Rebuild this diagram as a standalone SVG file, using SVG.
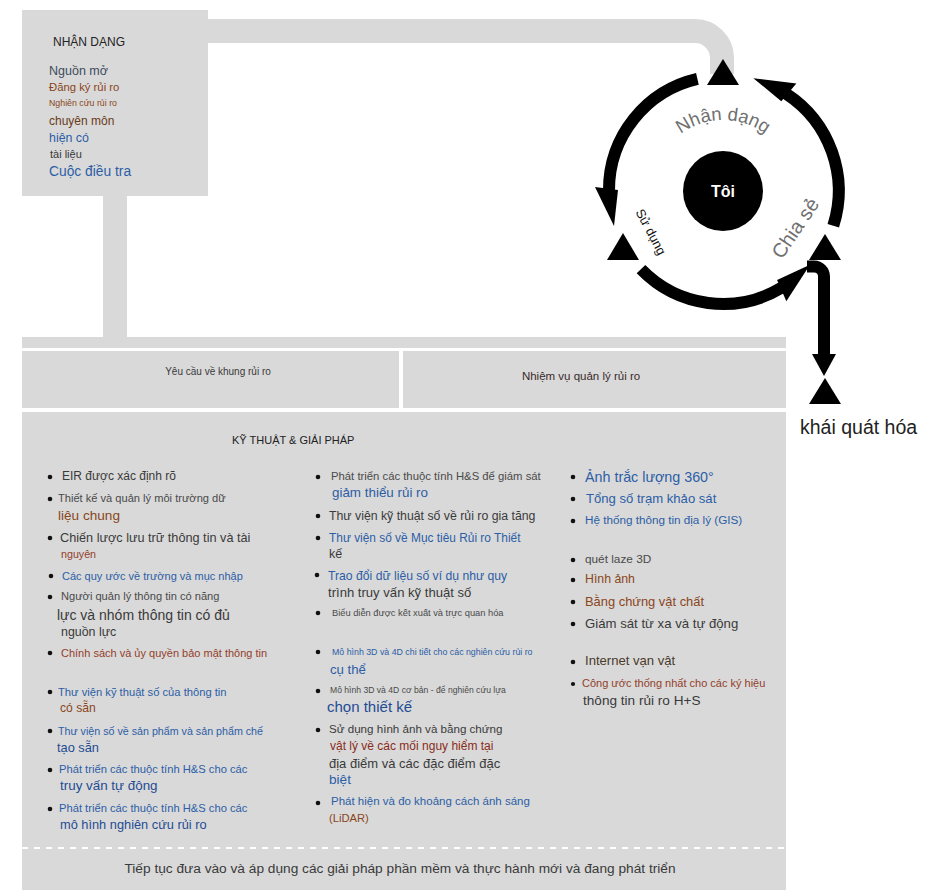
<svg xmlns="http://www.w3.org/2000/svg" width="942" height="894" viewBox="0 0 942 894">
<style>
text{font-family:"Liberation Sans",Arial,sans-serif;}
.box{fill:#d9d9d9;}
.dk{fill:#3a3a3a;}
.br{fill:#8a4620;}
.rb{fill:#93402a;}
.bl{fill:#2c5ea6;}
.bd{fill:#1f4c94;}
.sl{fill:#3c4c5e;}
.bul{fill:#111;}
.arc{fill:none;stroke:#000;stroke-width:12;stroke-linecap:butt;}
.tri{fill:#000;}
.lbl{fill:#707070;}
</style>
<defs>
<marker id="ah" markerUnits="userSpaceOnUse" orient="auto" markerWidth="60" markerHeight="60" refX="0" refY="0" overflow="visible">
<path d="M0,-9 L36,-5 L-3,14 Z" fill="#000"/>
</marker>
<marker id="ahd" markerUnits="userSpaceOnUse" orient="auto" markerWidth="40" markerHeight="40" refX="0" refY="0" overflow="visible">
<path d="M0,-12 L22,0 L0,12 Z" fill="#000"/>
</marker>
<path id="arcTop" d="M656.3,166.7 A71,71 0 0 1 789.7,166.7"/>
</defs>

<g id="connectors">
<path d="M206,31 H695 A27,27 0 0 1 722,58 V74" fill="none" stroke="#d9d9d9" stroke-width="24"/>
<rect x="103" y="194" width="24" height="145" fill="#d9d9d9"/>
<path class="arc" d="M697.4,78.9 A114,114 0 0 0 609,190" marker-end="url(#ah)"/>
<path class="arc" d="M641,269.2 A114,114 0 0 0 781.7,287.7" marker-end="url(#ah)"/>
<path class="arc" d="M833.3,225.8 A116,116 0 0 0 786.2,93.7" marker-end="url(#ah)"/>
<path class="arc" d="M807,266.5 H814 A10,10 0 0 1 824,276.5 V354" marker-end="url(#ahd)"/>
</g>

<g id="node-identify-box">
<rect class="box" x="22" y="10" width="186" height="186"/>
<text x="53" y="46" font-size="12" fill="#222">NHẬN DẠNG</text>
<text x="49" y="75" font-size="12.5" class="sl">Nguồn mở</text>
<text x="49" y="91" font-size="11.3" class="br">Đăng ký rủi ro</text>
<text x="49" y="106" font-size="8.8" class="br">Nghiên cứu rủi ro</text>
<text x="49" y="125" font-size="12" fill="#6a3a1a">chuyên môn</text>
<text x="49" y="142" font-size="12.4" class="bl">hiện có</text>
<text x="50" y="158" font-size="11" class="dk">tài liệu</text>
<text x="49" y="176" font-size="13.8" class="bl">Cuộc điều tra</text>
</g>

<g id="node-strip">
<rect class="box" x="22" y="337" width="764" height="11"/>
</g>

<g id="node-framework-req">
<rect class="box" x="22" y="351" width="377" height="57"/>
<text x="218" y="375" font-size="10" text-anchor="middle" class="dk">Yêu cầu về khung rủi ro</text>
</g>

<g id="node-risk-tasks">
<rect class="box" x="403" y="351" width="383" height="57"/>
<text x="581" y="380" font-size="11.5" text-anchor="middle" fill="#3a2a2a">Nhiệm vụ quản lý rủi ro</text>
</g>

<g id="node-techniques">
<rect class="box" x="22" y="412" width="764" height="478"/>
<text x="232" y="444" font-size="11" fill="#222">KỸ THUẬT &amp; GIẢI PHÁP</text>
<line x1="22" y1="848" x2="786" y2="848" stroke="#fff" stroke-width="2" stroke-dasharray="6,6"/>
<text x="400" y="873" font-size="13.7" text-anchor="middle" class="dk">Tiếp tục đưa vào và áp dụng các giải pháp phần mềm và thực hành mới và đang phát triển</text>

<g id="col1">
<circle class="bul" cx="50" cy="477" r="2.3"/>
<text x="62" y="480" font-size="12" class="dk">EIR được xác định rõ</text>
<circle class="bul" cx="50" cy="499" r="2.3"/>
<text x="58" y="502" font-size="11.1" fill="#4a4a4a">Thiết kế và quản lý môi trường dữ</text>
<text x="58" y="520" font-size="13.6" class="br">liệu chung</text>
<circle class="bul" cx="50" cy="538" r="2.3"/>
<text x="60" y="542" font-size="12.7" class="dk">Chiến lược lưu trữ thông tin và tài</text>
<text x="61" y="558" font-size="10.7" class="rb">nguyên</text>
<circle class="bul" cx="51" cy="576" r="2.3"/>
<text x="62" y="580" font-size="11" class="bl">Các quy ước về trường và mục nhập</text>
<circle class="bul" cx="50" cy="597" r="2.3"/>
<text x="61" y="600" font-size="11.1" fill="#4a4a4a">Người quản lý thông tin có năng</text>
<text x="57" y="620" font-size="14" class="dk">lực và nhóm thông tin có đủ</text>
<text x="61" y="636" font-size="12.4" class="dk">nguồn lực</text>
<circle class="bul" cx="50" cy="653" r="2.3"/>
<text x="61" y="657" font-size="11" class="rb">Chính sách và ủy quyền bảo mật thông tin</text>
<circle class="bul" cx="50" cy="692" r="2.3"/>
<text x="58" y="696" font-size="11.2" class="bl">Thư viện kỹ thuật số của thông tin</text>
<text x="60" y="712" font-size="12.1" class="br">có sẵn</text>
<circle class="bul" cx="50" cy="731" r="2.3"/>
<text x="58" y="735" font-size="10.7" class="bl">Thư viện số về sản phẩm và sản phẩm chế</text>
<text x="57" y="752" font-size="12.8" class="bd">tạo sẵn</text>
<circle class="bul" cx="50" cy="770" r="2.3"/>
<text x="59" y="773" font-size="11.2" class="bl">Phát triển các thuộc tính H&amp;S cho các</text>
<text x="60" y="790" font-size="13.4" class="bd">truy vấn tự động</text>
<circle class="bul" cx="50" cy="809" r="2.3"/>
<text x="59" y="812" font-size="11.2" class="bl">Phát triển các thuộc tính H&amp;S cho các</text>
<text x="60" y="829" font-size="12.8" class="bd">mô hình nghiên cứu rủi ro</text>
</g>

<g id="col2">
<circle class="bul" cx="318" cy="477" r="2.3"/>
<text x="331" y="480" font-size="11.3" fill="#4a4a4a">Phát triển các thuộc tính H&amp;S để giám sát</text>
<text x="332" y="497" font-size="13.4" class="bl">giảm thiểu rủi ro</text>
<circle class="bul" cx="318" cy="516" r="2.3"/>
<text x="329" y="520" font-size="12.3" class="dk">Thư viện kỹ thuật số về rủi ro gia tăng</text>
<circle class="bul" cx="318" cy="538" r="2.3"/>
<text x="329" y="542" font-size="11.9" class="bl">Thư viện số về Mục tiêu Rủi ro Thiết</text>
<text x="329" y="558" font-size="12.5" class="dk">kế</text>
<circle class="bul" cx="317" cy="575" r="2.3"/>
<text x="328" y="580" font-size="12.2" class="bl">Trao đổi dữ liệu số ví dụ như quy</text>
<text x="328" y="597" font-size="13.1" class="dk">trình truy vấn kỹ thuật số</text>
<circle class="bul" cx="318" cy="613" r="2.3"/>
<text x="332" y="616" font-size="9.3" fill="#4a4a4a">Biểu diễn được kết xuất và trực quan hóa</text>
<circle class="bul" cx="318" cy="652" r="2.3"/>
<text x="332" y="655" font-size="8.8" class="bl">Mô hình 3D và 4D chi tiết cho các nghiên cứu rủi ro</text>
<text x="330" y="674" font-size="13.2" class="bl">cụ thể</text>
<circle class="bul" cx="318" cy="691" r="2.3"/>
<text x="330" y="693" font-size="8.6" fill="#4a4a4a">Mô hình 3D và 4D cơ bản - để nghiên cứu lựa</text>
<text x="327" y="712" font-size="15" class="bd">chọn thiết kế</text>
<circle class="bul" cx="318" cy="730" r="2.3"/>
<text x="329" y="733" font-size="11.6" class="dk">Sử dụng hình ảnh và bằng chứng</text>
<text x="330" y="750" font-size="12" fill="#8a2c1a">vật lý về các mối nguy hiểm tại</text>
<text x="329" y="768" font-size="13" class="dk">địa điểm và các đặc điểm đặc</text>
<text x="329" y="784" font-size="13.6" class="bl">biệt</text>
<circle class="bul" cx="318" cy="803" r="2.3"/>
<text x="331" y="805" font-size="11.5" class="bl">Phát hiện và đo khoảng cách ánh sáng</text>
<text x="329" y="822" font-size="11.2" class="br">(LiDAR)</text>
</g>

<g id="col3">
<circle class="bul" cx="573" cy="477" r="2.3"/>
<text x="585" y="482" font-size="14.3" class="bl">Ảnh trắc lượng 360°</text>
<circle class="bul" cx="573" cy="499" r="2.3"/>
<text x="586" y="503" font-size="13.1" class="bl">Tổng số trạm khảo sát</text>
<circle class="bul" cx="573" cy="521" r="2.3"/>
<text x="585" y="524" font-size="11.7" class="bl">Hệ thống thông tin địa lý (GIS)</text>
<circle class="bul" cx="573" cy="560" r="2.3"/>
<text x="585" y="563" font-size="11.8" fill="#4a4a4a">quét laze 3D</text>
<circle class="bul" cx="573" cy="580" r="2.3"/>
<text x="585" y="583" font-size="12.3" class="br">Hình ảnh</text>
<circle class="bul" cx="573" cy="602" r="2.3"/>
<text x="585" y="606" font-size="12.9" class="br">Bằng chứng vật chất</text>
<circle class="bul" cx="573" cy="624" r="2.3"/>
<text x="585" y="628" font-size="13.2" class="dk">Giám sát từ xa và tự động</text>
<circle class="bul" cx="573" cy="662" r="2.3"/>
<text x="585" y="665" font-size="13.1" fill="#4a3a2a">Internet vạn vật</text>
<circle class="bul" cx="573" cy="684" r="2.1"/>
<text x="582" y="687" font-size="11" class="rb">Công ước thống nhất cho các ký hiệu</text>
<text x="583" y="705" font-size="13.6" class="dk">thông tin rủi ro H+S</text>
</g>
</g>

<g id="node-cycle">
<polygon class="tri" points="723,59 707,85 739,85"/>
<polygon class="tri" points="623,233 607,260 639,260"/>
<polygon class="tri" points="825,234 809,260 841,260"/>
<text font-size="18.5" class="lbl"><textPath href="#arcTop" startOffset="50%" text-anchor="middle">Nhận dạng</textPath></text>
<text font-size="20" class="lbl" text-anchor="middle" transform="translate(801,232) rotate(-56)">Chia sẻ</text>
<text font-size="13" fill="#111" text-anchor="middle" transform="translate(647,234) rotate(62)">Sử dụng</text>
</g>

<g id="node-me">
<circle cx="723" cy="191" r="40" fill="#000"/>
<text x="723" y="197" font-size="16" font-weight="bold" fill="#fff" text-anchor="middle">Tôi</text>
</g>

<g id="node-generalize">
<polygon class="tri" points="825,378 809,404 841,404"/>
<text x="800" y="434" font-size="19.5" fill="#222">khái quát hóa</text>
</g>
</svg>
